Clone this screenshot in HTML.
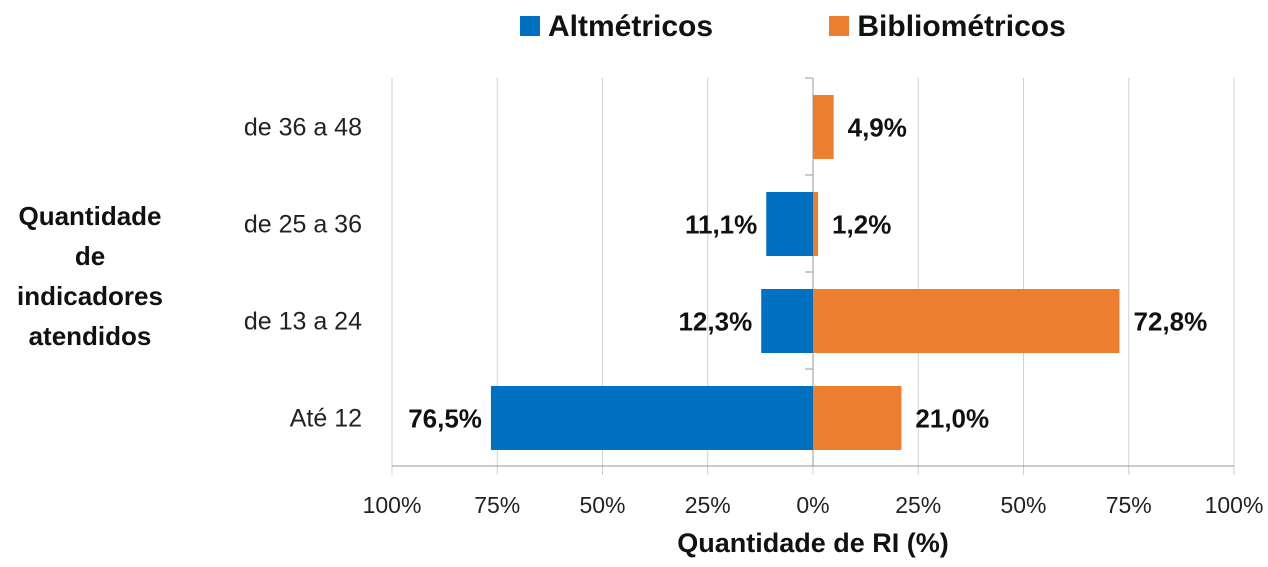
<!DOCTYPE html>
<html><head><meta charset="utf-8"><style>
body{margin:0;background:#fff;}
svg{font-family:"Liberation Sans",sans-serif;}
</style></head><body>
<svg id="c" width="1268" height="562"></svg>
<script>
const categories=["Até 12","de 13 a 24","de 25 a 36","de 36 a 48"];
const altValues=[76.5,12.3,11.1,0];
const bibValues=[21.0,72.8,1.2,4.9];
const altLabels=["76,5%","12,3%","11,1%",""];
const bibLabels=["21,0%","72,8%","1,2%","4,9%"];
const tickValues=[-100,-75,-50,-25,0,25,50,75,100];
const tickLabels=["100%","75%","50%","25%","0%","25%","50%","75%","100%"];
(function(){
const NS="http://www.w3.org/2000/svg";
const svg=document.getElementById('c');
const x0=813,ppu=4.21,yTop=78,yBottom=466,band=97;
function X(v){return x0+v*ppu;}
function bandTop(i){return yBottom-(i+1)*band;}
function el(t,a,txt){const e=document.createElementNS(NS,t);for(const k in a)e.setAttribute(k,a[k]);if(txt!==undefined)e.textContent=txt;svg.appendChild(e);return e;}
tickValues.forEach((v,i)=>{
 const g=el('line',{x1:X(v),x2:X(v),y1:yTop,y2:yBottom+9,stroke:'#d0d0d0','stroke-width':1});
 
 
 const t=el('text',{x:X(v),y:513,'text-anchor':'middle','font-size':23,fill:'#222'},tickLabels[i]);
 
 
});
const ax=el('line',{x1:X(-100),x2:X(100),y1:yBottom,y2:yBottom,stroke:'#999','stroke-width':1});


const yx=el('line',{x1:x0,x2:x0,y1:yTop,y2:yBottom,stroke:'#999','stroke-width':1});


for(let i=0;i<=categories.length;i++){
 const tk=el('line',{x1:x0-8,x2:x0,y1:yBottom-i*band,y2:yBottom-i*band,stroke:'#999'});
 
 
}
categories.forEach((c,i)=>{
 const bt=bandTop(i),y=bt+17,h=64,cy=bt+band/2;
 const cl=el('text',{x:362,y:cy+9,'text-anchor':'end','font-size':25,fill:'#222'},c);
 
 
 if(altValues[i]>0){
  const r=el('rect',{x:X(-altValues[i]),y:y,width:altValues[i]*ppu,height:h,fill:'#0070c0'});
  
  
  const t=el('text',{x:X(-altValues[i])-9,y:cy+10,'text-anchor':'end','font-size':26,'font-weight':'bold',fill:'#111'},altLabels[i]);
  
  
 }
 const r2=el('rect',{x:x0,y:y,width:bibValues[i]*ppu,height:h,fill:'#ed7d31'});
 
 
 const t2=el('text',{x:X(bibValues[i])+14,y:cy+10,'font-size':26,'font-weight':'bold',fill:'#111'},bibLabels[i]);
 
 
});
})();
</script>
<div style="position:absolute;left:0;top:0;width:1268px;height:562px;pointer-events:none;font-family:'Liberation Sans',sans-serif;">
 <div style="position:absolute;top:10px;left:520px;font-size:30px;font-weight:bold;color:#111;white-space:nowrap;">
  <span><span style="display:inline-block;width:20px;height:20px;background:#0070c0;margin-right:8px;vertical-align:0px"></span>Altmétricos</span>
  <span style="margin-left:108px"><span style="display:inline-block;width:20px;height:20px;background:#ed7d31;margin-right:8px;vertical-align:0px"></span>Bibliométricos</span>
 </div>
 <div style="position:absolute;left:0;top:196px;width:180px;text-align:center;font-size:26px;font-weight:bold;line-height:40px;color:#111;">Quantidade<br>de<br>indicadores<br>atendidos</div>
 <div style="position:absolute;left:603px;top:528px;width:420px;text-align:center;font-size:27px;font-weight:bold;color:#111;">Quantidade de RI (%)</div>
</div>
</body></html>
